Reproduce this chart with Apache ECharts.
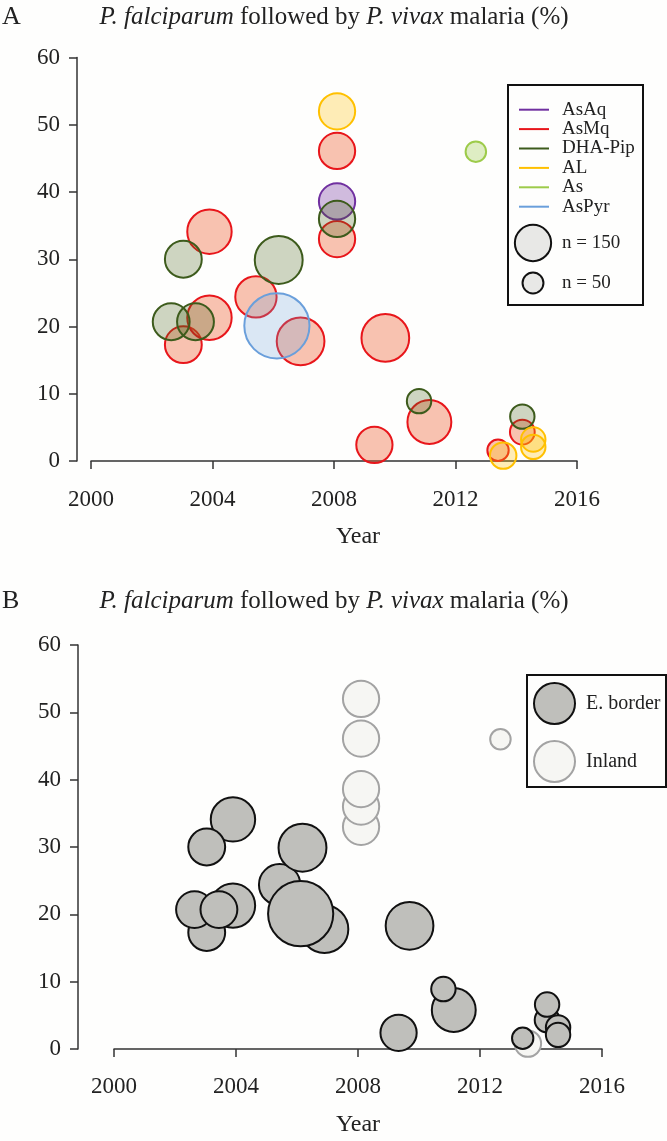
<!DOCTYPE html>
<html>
<head>
<meta charset="utf-8">
<script src="https://cdn.jsdelivr.net/npm/echarts@6/dist/echarts.min.js"></script>
<style>
  html, body { margin: 0; padding: 0; background: #fefefd; }
  #chart { width: 667px; height: 1141px; }
</style>
</head>
<body>
<div id="chart"></div>
<script>
// one row per study: [year, % P. vivax after P. falciparum, n, region]  (E = eastern border, I = inland)
const asaq = [[2008.1, 38.6, 150, 'I']];
const asmq = [
  [2008.1, 46.1, 150, 'I'],
  [2008.1, 33.0, 150, 'I'],
  [2003.04, 17.3, 155, 'E'],
  [2003.9, 21.3, 225, 'E'],
  [2003.9, 34.1, 225, 'E'],
  [2006.9, 17.8, 260, 'E'],
  [2005.43, 24.4, 195, 'E'],
  [2009.69, 18.3, 260, 'E'],
  [2009.33, 2.4, 150, 'E'],
  [2011.14, 5.8, 220, 'E'],
  [2014.2, 4.3, 70, 'E'],
  [2013.4, 1.6, 52, 'E']
];
const dhaPip = [
  [2008.1, 36.0, 150, 'I'],
  [2003.04, 30.0, 155, 'E'],
  [2006.18, 29.9, 262, 'E'],
  [2002.64, 20.7, 155, 'E'],
  [2003.44, 20.7, 155, 'E'],
  [2010.8, 8.9, 68, 'E'],
  [2014.2, 6.6, 68, 'E']
];
const al = [
  [2008.1, 52.0, 150, 'I'],
  [2014.56, 3.2, 68, 'E'],
  [2014.56, 2.1, 68, 'E'],
  [2013.57, 0.8, 80, 'I']
];
const asMono = [[2012.67, 46.0, 48, 'I']];
const asPyr = [[2006.12, 20.1, 485, 'E']];

const legendOrder = ['AsAq', 'AsMq', 'DHA-Pip', 'AL', 'As', 'AsPyr'];
const drawOrder = ['AsMq', 'AsPyr', 'AsAq', 'DHA-Pip', 'AL', 'As'];
const drugData = { 'AsAq': asaq, 'AsMq': asmq, 'DHA-Pip': dhaPip, 'AL': al, 'As': asMono, 'AsPyr': asPyr };
const sizeKey = [150, 50];
const regions = ['E. border', 'Inland'];
const xTicks = [2000, 2016, 4];
const yTicks = [0, 60, 10];

const serif = 'Liberation Serif, Times New Roman, serif';
const ink = '#222';
const strokeCol = {
  'AsAq': '#7030a0', 'AsMq': '#e8161b', 'DHA-Pip': '#3d5b1c',
  'AL': '#ffc000', 'As': '#9dcb4a', 'AsPyr': '#6a9fdb'
};
const fillCol = {
  'AsAq': 'rgba(112,48,160,0.32)', 'AsMq': 'rgba(238,88,40,0.36)', 'DHA-Pip': 'rgba(70,95,25,0.26)',
  'AL': 'rgba(255,192,0,0.28)', 'As': 'rgba(157,203,74,0.32)', 'AsPyr': 'rgba(106,159,219,0.24)'
};

// bubble area proportional to n
const K = 1.48;
function bubble(v) { return 2 * K * Math.sqrt(v[2]); }

const axisLine = { show: true, lineStyle: { color: '#333', width: 1.5 } };
const axisTick = { show: true, length: 8, lineStyle: { color: '#333', width: 1.5 } };

function xAxisFor(idx, offset) {
  return {
    gridIndex: idx, type: 'value', min: xTicks[0], max: xTicks[1], interval: xTicks[2], offset: offset,
    axisLine: axisLine, axisTick: axisTick, splitLine: { show: false },
    axisLabel: { fontFamily: serif, fontSize: 23, color: ink, margin: 19, formatter: function (v) { return String(v); } }
  };
}
function yAxisFor(idx, offset) {
  return {
    gridIndex: idx, type: 'value', min: yTicks[0], max: yTicks[1], interval: yTicks[2], offset: offset,
    axisLine: axisLine, axisTick: axisTick, splitLine: { show: false },
    axisLabel: { fontFamily: serif, fontSize: 23, color: ink, margin: 17 }
  };
}

const series = [];
drawOrder.forEach(function (d) {
  series.push({
    name: d, type: 'scatter', xAxisIndex: 0, yAxisIndex: 0, clip: false,
    data: drugData[d], symbolSize: bubble,
    itemStyle: { color: fillCol[d], borderColor: strokeCol[d], borderWidth: 2, opacity: 1 },
    emphasis: { disabled: true }
  });
});

const allStudies = [];
drawOrder.forEach(function (d) { drugData[d].forEach(function (r) { allStudies.push(r); }); });
const inland = allStudies.filter(function (r) { return r[3] === 'I'; }).sort(function (a, b) { return a[1] - b[1]; });
const border = allStudies.filter(function (r) { return r[3] === 'E'; });
series.push({
  name: 'Inland', type: 'scatter', xAxisIndex: 1, yAxisIndex: 1, clip: false,
  data: inland, symbolSize: bubble,
  itemStyle: { color: '#f6f6f3', borderColor: '#a3a3a3', borderWidth: 2, opacity: 1 },
  emphasis: { disabled: true }
});
series.push({
  name: 'E. border', type: 'scatter', xAxisIndex: 1, yAxisIndex: 1, clip: false,
  data: border, symbolSize: bubble,
  itemStyle: { color: '#bfbfbb', borderColor: '#111', borderWidth: 2, opacity: 1 },
  emphasis: { disabled: true }
});

const titleText = '{i|P. falciparum} followed by {i|P. vivax} malaria (%)';
const titleStyle = {
  fontFamily: serif, fontSize: 25, fontWeight: 'normal', color: ink,
  rich: { i: { fontFamily: serif, fontSize: 25, fontStyle: 'italic', color: ink } }
};

const chart = echarts.init(document.getElementById('chart'));
chart.setOption({
  animation: false,
  backgroundColor: '#fefefd',
  textStyle: { fontFamily: serif },
  title: [
    { text: titleText, left: 334, top: 5, textAlign: 'center', padding: 0, textStyle: titleStyle },
    { text: titleText, left: 334, top: 589, textAlign: 'center', padding: 0, textStyle: titleStyle }
  ],
  grid: [
    { left: 91, top: 57.5, width: 486, height: 403.5 },
    { left: 114, top: 645, width: 488, height: 404 }
  ],
  xAxis: [xAxisFor(0, 8), xAxisFor(1, 7)],
  yAxis: [yAxisFor(0, 14), yAxisFor(1, 36)],
  legend: [
    {
      data: legendOrder.map(function (d) { return { name: d, itemStyle: { color: strokeCol[d], borderWidth: 0 } }; }),
      orient: 'vertical', left: 519, top: 100, padding: 0, itemGap: 0,
      icon: 'rect', itemWidth: 30, itemHeight: 2, selectedMode: false,
      textStyle: { fontFamily: serif, fontSize: 19, color: ink, lineHeight: 19.4, padding: [0, 0, 0, 8] }
    },
    {
      data: regions, orient: 'vertical', left: 533, top: 682, padding: 0, itemGap: 15,
      icon: 'circle', itemWidth: 41, itemHeight: 41, selectedMode: false,
      textStyle: { fontFamily: serif, fontSize: 20, color: ink, padding: [0, 0, 0, 6] }
    }
  ],
  graphic: [
    { type: 'text', left: 2, top: 4, style: { text: 'A', font: '26px "Liberation Serif"', fill: ink } },
    { type: 'text', left: 2, top: 588, style: { text: 'B', font: '26px "Liberation Serif"', fill: ink } },
    { type: 'text', x: 358, y: 537, style: { text: 'Year', font: '24px "Liberation Serif"', fill: ink, align: 'center', verticalAlign: 'middle' } },
    { type: 'text', x: 358, y: 1125, style: { text: 'Year', font: '24px "Liberation Serif"', fill: ink, align: 'center', verticalAlign: 'middle' } },
    { type: 'rect', shape: { x: 508, y: 85, width: 135, height: 220 }, style: { fill: 'none', stroke: '#111', lineWidth: 2 } },
    { type: 'rect', shape: { x: 527, y: 675, width: 139, height: 112 }, style: { fill: 'none', stroke: '#111', lineWidth: 2 } },
    { type: 'circle', shape: { cx: 533, cy: 243, r: K * Math.sqrt(sizeKey[0]) }, style: { fill: '#e8e8e6', stroke: '#111', lineWidth: 2 } },
    { type: 'circle', shape: { cx: 533, cy: 283, r: K * Math.sqrt(sizeKey[1]) }, style: { fill: '#e8e8e6', stroke: '#111', lineWidth: 2 } },
    { type: 'text', x: 562, y: 243, style: { text: 'n = ' + sizeKey[0], font: '19px "Liberation Serif"', fill: ink, verticalAlign: 'middle' } },
    { type: 'text', x: 562, y: 283, style: { text: 'n = ' + sizeKey[1], font: '19px "Liberation Serif"', fill: ink, verticalAlign: 'middle' } }
  ],
  series: series
});
</script>
</body>
</html>
